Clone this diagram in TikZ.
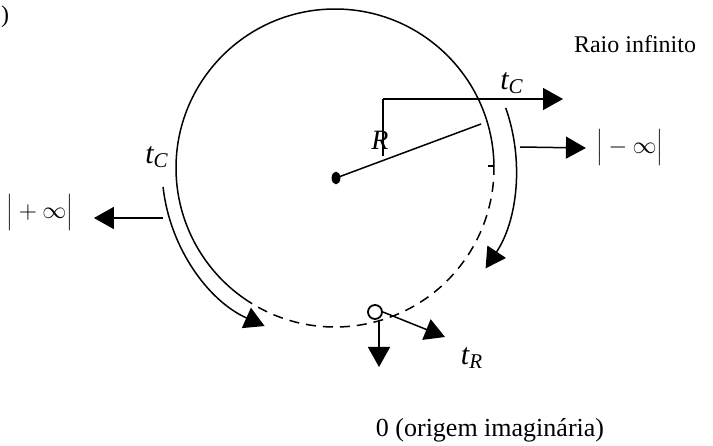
\documentclass[tikz,border=0pt]{standalone}
\usepackage{fontspec}
\setmainfont{Liberation Serif}
\usetikzlibrary{arrows.meta}

\begin{document}
\begin{tikzpicture}[x=0.5pt,y=0.5pt,line width=0.75pt,
    bigtip/.style={-{Triangle[length=10pt,width=11pt]}},
    lbl/.style={inner sep=0pt,font=\fontsize{12}{14}\selectfont},
    tlbl/.style={inner sep=0pt,font=\fontsize{15}{17}\selectfont\itshape}]
  \useasboundingbox (0,0) rectangle (713,445);
  % circle (solid upper part, dashed lower part)
  \coordinate (C) at (335,277);
  \draw ([shift={(C)}]0.7:159) arc (0.7:235:159);
  \draw[dash pattern=on 5pt off 3.5pt] ([shift={(C)}]235:159) arc (235:360.7:159);
  \draw ([shift={(C)}]0.7:159) -- ++(-6,0);
  % centre and radius
  \coordinate (D) at (336,267);
  \fill (D) ellipse (2.2pt and 3.2pt);
  \coordinate (Rend) at (481,321);
  \draw (D) -- (Rend);
  \coordinate (V) at (383,346);
  \coordinate (Vb) at (383,289);
  \coordinate (H) at (563,346);
  \draw (Vb) -- (V);
  \draw[bigtip] (V) -- (H);
  \node[tlbl,font=\fontsize{14}{16}\selectfont\itshape] (rlab) at (380,305) {R};
  \node[tlbl] (tctop) at (512,362) {t\textsubscript{C}};
  \node[lbl] (raio) at (635,401) {Raio infinito};
  % right outer arc
  \draw[bigtip] ([shift={(C)}]19.4:181) arc (19.4:-33.7:181);
  \coordinate (Ra) at (520,298);
  \node[lbl] (minf) at (630,297) {$\Big|-\infty\Big|$};
  \draw[bigtip] (Ra) -- ([xshift=-5pt]minf.west);
  % left outer arc
  \draw[bigtip] ([shift={(C)}]186.3:173) arc (186.3:246:173);
  \coordinate (La) at (163,227);
  \node[lbl] (pinf) at (40,232) {$\Big|+\infty\Big|$};
  \draw[bigtip] (La) -- ([xshift=10pt]pinf.east |- La);
  \node[tlbl] (tcleft) at (157,288) {t\textsubscript{C}};
  % origin point
  \node[draw,circle,minimum size=7pt,inner sep=0pt,line width=0.9pt] (O) at (375,133) {};
  \coordinate (Dn) at (379,78);
  \draw[bigtip] (O.south -| Dn) -- (Dn);
  \coordinate (Tr) at (445,108);
  \draw[bigtip] (O.east) -- (Tr);
  \node[tlbl] (trlab) at (472,87) {t\textsubscript{R}};
  \node[lbl,font=\fontsize{13}{15}\selectfont] (orig) at (490,15) {0 (origem imaginária)};
  \node[lbl] (par) at (5,428) {)};
\end{tikzpicture}
\end{document}
